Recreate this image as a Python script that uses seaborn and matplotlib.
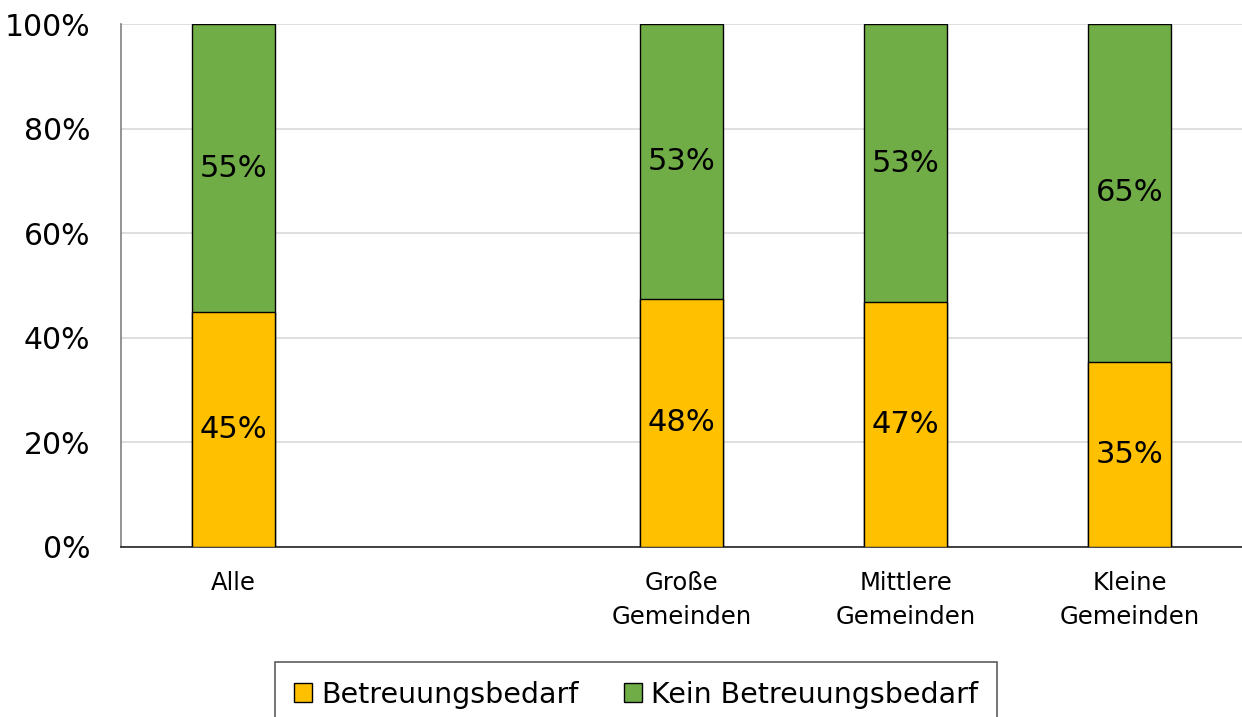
import math
import matplotlib
matplotlib.use("Agg")
import matplotlib.pyplot as plt
from matplotlib.patches import Patch
import pandas as pd
import seaborn as sns

# Share of households with / without care need, by municipality size
categories = ["Alle", "Große\nGemeinden", "Mittlere\nGemeinden", "Kleine\nGemeinden"]
betreuungsbedarf = [44.9, 47.5, 46.8, 35.4]
kein_bedarf = [55.1, 52.5, 53.2, 64.6]
# Slot order on the x axis; the blank entry leaves a gap after "Alle"
slot_order = ["Alle", " ", "Große\nGemeinden", "Mittlere\nGemeinden", "Kleine\nGemeinden"]
y_ticks = [0, 20, 40, 60, 80, 100]

series_names = ["Betreuungsbedarf", "Kein Betreuungsbedarf"]
colors = ["#FFC000", "#70AD47"]

sns.set_theme(style="white")
plt.rcParams["font.family"] = ["DejaVu Sans"]
plt.rcParams["text.color"] = "black"
plt.rcParams["xtick.color"] = "black"
plt.rcParams["ytick.color"] = "black"

df = pd.DataFrame({
    "Kategorie": categories,
    "Bedarf": betreuungsbedarf,
    "Kein": kein_bedarf,
})
df["Gesamt"] = df["Bedarf"] + df["Kein"]

fig = plt.figure(figsize=(12.42, 7.17), dpi=100)
ax = fig.add_axes([121 / 1242, 1 - 547 / 717, 1 - 121 / 1242, (547 - 24) / 717])

bar_w = 0.37
# Full-height green bars, yellow bars drawn over them form the stack
sns.barplot(data=df, x="Kategorie", y="Gesamt", order=slot_order, color=colors[1],
            saturation=1, width=bar_w, edgecolor="black", linewidth=1.0, ax=ax, zorder=3)
sns.barplot(data=df, x="Kategorie", y="Bedarf", order=slot_order, color=colors[0],
            saturation=1, width=bar_w, edgecolor="black", linewidth=1.0, ax=ax, zorder=4)

def fmt(v):
    return f"{math.floor(v + 0.5)}%"

for cat, b, k in zip(categories, betreuungsbedarf, kein_bedarf):
    xpos = slot_order.index(cat)
    ax.text(xpos, b / 2, fmt(b), ha="center", va="center", fontsize=22,
            color="black", zorder=6)
    ax.text(xpos, b + k / 2, fmt(k), ha="center", va="center", fontsize=22,
            color="black", zorder=6)

ax.set_xlim(-0.5, 4.5)
ax.set_ylim(0, 100)
ax.set_yticks(y_ticks)
ax.set_yticklabels([f"{t}%" for t in y_ticks], fontsize=21.5)
ax.tick_params(axis="y", length=0, pad=22)
ax.tick_params(axis="x", length=0, pad=17, labelsize=17.5)
for lbl in ax.get_xticklabels():
    lbl.set_linespacing(1.55)
ax.set_xlabel("")
ax.set_ylabel("")
ax.yaxis.grid(True, color="#d9d9d9", linewidth=1.2, zorder=0)
ax.set_axisbelow(True)

for side in ["top", "right"]:
    ax.spines[side].set_visible(False)
ax.spines["left"].set_color("#808080")
ax.spines["left"].set_linewidth(1.2)
ax.spines["bottom"].set_color("#222222")
ax.spines["bottom"].set_linewidth(1.2)

handles = [Patch(facecolor=c, edgecolor="black", linewidth=1.0) for c in colors]
leg = fig.legend(handles, series_names, loc="upper center",
                 bbox_to_anchor=(636 / 1242, 1 - 662 / 717), ncol=2,
                 fontsize=20.5, frameon=True, fancybox=False,
                 handlelength=0.65, handleheight=0.65, handletextpad=0.3,
                 columnspacing=1.6, borderpad=0.65, borderaxespad=0)
leg.get_frame().set_edgecolor("#333333")
leg.get_frame().set_linewidth(1.2)

fig.savefig("out.png", dpi=100)
